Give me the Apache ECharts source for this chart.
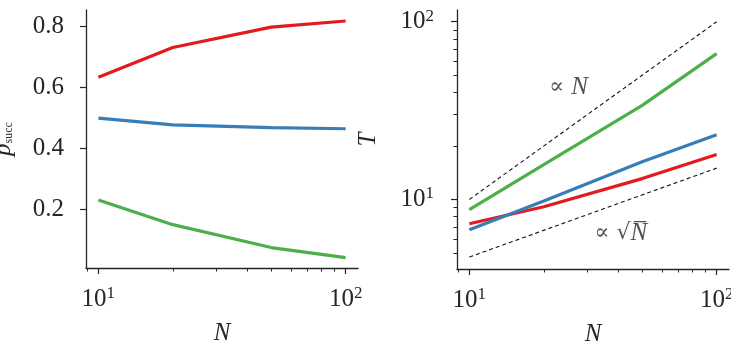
<!DOCTYPE html>
<html>
<head>
<meta charset="utf-8">
<script src="https://cdn.jsdelivr.net/npm/echarts@6/dist/echarts.min.js"></script>
<style>
  html, body { margin: 0; padding: 0; background: #fff; }
  #main { width: 731px; height: 344px; }
</style>
</head>
<body>
<div id="main"></div>
<script>
// N 取值
var nValues = [10, 20, 50, 100];
// 左图 p_succ
var pSuccRed = [0.633, 0.730, 0.797, 0.817];
var pSuccBlue = [0.499, 0.477, 0.468, 0.464];
var pSuccGreen = [0.231, 0.150, 0.075, 0.042];
// 右图 T
var timeRed = [7.3, 9.1, 13.1, 17.9];
var timeBlue = [6.75, 9.8, 16.3, 23.1];
var timeGreen = [8.75, 15.7, 33.8, 66.1];
// 参考虚线 ∝N 和 ∝√N
var guideN = [10, 100];
var guideLinear = [10, 100];
var guideSqrt = [4.74, 15.0];
// 刻度
var pTicks = [0.2, 0.4, 0.6, 0.8];
var decadeTicks = [10, 100];
var minorXTicks = [9, 20, 30, 40, 50, 60, 70, 80, 90];
var minorYTicks = [5, 6, 7, 8, 9, 20, 30, 40, 50, 60, 70, 80, 90];
// 注释位置 (数据坐标)
var noteN = [25.2, 42.7];
var noteSqrt = [41, 6.44];

var RED = '#e41a1c', BLUE = '#377eb8', GREEN = '#4daf4a';
var INK = '#262626';
var SERIF = 'Liberation Serif';
var FS = 25;

function zip(xs, ys) {
  return xs.map(function (x, i) { return [x, ys[i]]; });
}

var powRich = {
  b: { fontFamily: SERIF, fontSize: FS, color: INK, lineHeight: 28 },
  s: { fontFamily: SERIF, fontSize: 17, color: INK, lineHeight: 15, verticalAlign: 'top' }
};
function powLabel(v) {
  return v === 10 ? '{b|10}{s|1}' : '{b|10}{s|2}';
}

function majorAxis(grid, extra) {
  return Object.assign({
    gridIndex: grid,
    type: 'log',
    logBase: 10,
    axisLine: { show: true, lineStyle: { color: INK, width: 1.3 } },
    axisTick: { show: true, customValues: decadeTicks, length: 6, lineStyle: { color: INK, width: 1.2 } },
    axisLabel: { customValues: decadeTicks, formatter: powLabel, rich: powRich, margin: 17 },
    splitLine: { show: false }
  }, extra);
}
function minorAxis(grid, ticks, extra) {
  return Object.assign({
    gridIndex: grid,
    type: 'log',
    logBase: 10,
    axisLine: { show: false },
    axisTick: { show: true, customValues: ticks, length: 3.5, lineStyle: { color: INK, width: 1 } },
    axisLabel: { show: false },
    splitLine: { show: false }
  }, extra);
}

var xMin = Math.pow(10, 0.95), xMax = Math.pow(10, 2.05);
var nameN = {
  name: 'N',
  nameLocation: 'middle',
  nameGap: 53,
  nameTextStyle: { fontFamily: SERIF, fontStyle: 'italic', fontSize: FS, color: INK }
};

function line(name, data, color, xi, yi) {
  return {
    name: name, type: 'line', xAxisIndex: xi, yAxisIndex: yi,
    data: data, showSymbol: false, symbol: 'none',
    lineStyle: { color: color, width: 3.2 }
  };
}
function guide(data, xi, yi) {
  return {
    type: 'line', xAxisIndex: xi, yAxisIndex: yi, data: data, symbol: 'none',
    lineStyle: { color: '#111', width: 1.1, type: [4, 3] }, z: 1
  };
}
function note(text, pos, xi, yi) {
  return {
    type: 'scatter', xAxisIndex: xi, yAxisIndex: yi, symbolSize: 0,
    data: [pos],
    label: {
      show: true, position: 'inside', formatter: text,
      rich: {
        r: { fontFamily: 'DejaVu Serif', fontSize: 22, color: INK },
        i: { fontFamily: SERIF, fontStyle: 'italic', fontSize: FS, color: INK }
      }
    }
  };
}

var myChart = echarts.init(document.getElementById('main'), null, { renderer: 'canvas' });
myChart.setOption({
  animation: false,
  backgroundColor: '#fff',
  grid: [
    { left: 86, top: 10, width: 272, height: 258, outerBoundsMode: 'none' },
    { left: 457, top: 10, width: 272, height: 259, outerBoundsMode: 'none' }
  ],
  xAxis: [
    majorAxis(0, Object.assign({ min: xMin, max: xMax, position: 'bottom' }, nameN)),
    minorAxis(0, minorXTicks, { min: xMin, max: xMax, position: 'bottom' }),
    majorAxis(1, Object.assign({ min: xMin, max: xMax, position: 'bottom' }, nameN)),
    minorAxis(1, minorXTicks, { min: xMin, max: xMax, position: 'bottom' })
  ],
  yAxis: [
    {
      gridIndex: 0, type: 'value', min: 0.008, max: 0.853, position: 'left',
      axisLine: { show: true, lineStyle: { color: INK, width: 1.3 } },
      axisTick: { show: true, customValues: pTicks, length: 6, lineStyle: { color: INK, width: 1.2 } },
      axisLabel: {
        customValues: pTicks, margin: 22,
        formatter: function (v) { return v.toFixed(1); },
        fontFamily: SERIF, fontSize: FS, color: INK
      },
      splitLine: { show: false },
      name: '{p|p}{s|succ}', nameLocation: 'middle', nameGap: 71, nameRotate: 90,
      nameTextStyle: {
        rich: {
          p: { fontFamily: SERIF, fontStyle: 'italic', fontSize: FS, color: INK, lineHeight: 24 },
          s: { fontFamily: SERIF, fontSize: 12, color: INK, lineHeight: 12, verticalAlign: 'bottom' }
        }
      }
    },
    majorAxis(1, {
      min: 4.06, max: 116.4, position: 'left',
      axisLabel: { customValues: decadeTicks, formatter: powLabel, rich: powRich, margin: 23 },
      name: 'T', nameLocation: 'middle', nameGap: 76, nameRotate: 90,
      nameTextStyle: { fontFamily: SERIF, fontStyle: 'italic', fontSize: FS, color: INK }
    }),
    minorAxis(1, minorYTicks, { min: 4.06, max: 116.4, position: 'left' })
  ],
  series: [
    line('red', zip(nValues, pSuccRed), RED, 0, 0),
    line('blue', zip(nValues, pSuccBlue), BLUE, 0, 0),
    line('green', zip(nValues, pSuccGreen), GREEN, 0, 0),
    guide(zip(guideN, guideLinear), 2, 1),
    guide(zip(guideN, guideSqrt), 2, 1),
    line('red', zip(nValues, timeRed), RED, 2, 1),
    line('blue', zip(nValues, timeBlue), BLUE, 2, 1),
    line('green', zip(nValues, timeGreen), GREEN, 2, 1),
    note('{r|∝ }{i|N}', noteN, 2, 1),
    note('{r|∝ √}{i|N\u0305}', noteSqrt, 2, 1)
  ]
});
</script>
</body>
</html>
